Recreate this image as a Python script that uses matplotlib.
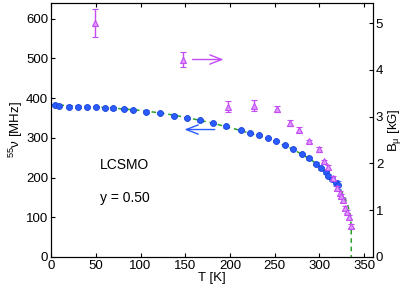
import matplotlib
matplotlib.use('Agg')
import matplotlib.pyplot as plt

plt.rcParams['font.family'] = ['Liberation Sans', 'DejaVu Sans']
plt.rcParams['mathtext.fontset'] = 'custom'
plt.rcParams['mathtext.rm'] = 'Liberation Sans'
plt.rcParams['mathtext.it'] = 'Liberation Sans'
plt.rcParams['font.size'] = 9.5

# ── Data ──────────────────────────────────────────────────────────────────────
# 55Mn NMR frequency (left axis)
nmr_T   = [4.5, 9, 20, 30, 40, 50, 60, 69, 82, 92, 106, 122, 137, 152, 167, 181,
           196, 212, 222, 232, 242, 251, 261, 270, 280, 288, 296, 302, 307, 310,
           314, 318, 321]
nmr_nu  = [383, 381, 379, 379, 378, 377, 375, 374, 372, 370, 366, 362, 356, 350,
           344, 337, 329, 320, 313, 307, 300, 292, 282, 272, 260, 248, 235, 223,
           213, 205, 196, 186, 182]
nmr_err = [3, 3, 3, 3, 3, 3, 3, 3, 3, 3, 3, 3, 3, 3, 3, 3, 3, 3, 3, 3, 3, 3, 3,
           3, 3, 3, 3, 3, 4, 4, 5, 7, 10]

# muon field (right axis)
mu_T    = [49, 148, 198, 227, 253, 267.5, 277.5, 288, 300, 305, 310, 315, 320,
           322.5, 324, 326.5, 328.5, 331, 333, 335.5]
mu_B    = [5.0, 4.22, 3.21, 3.23, 3.16, 2.86, 2.72, 2.47, 2.30, 2.04, 1.92, 1.68,
           1.47, 1.37, 1.31, 1.22, 1.04, 0.97, 0.86, 0.66]
mu_err  = [0.3, 0.17, 0.12, 0.12, 0.07, 0.06, 0.05, 0.04, 0.05, 0.04, 0.04, 0.04,
           0.04, 0.04, 0.04, 0.04, 0.04, 0.04, 0.04, 0.05]

# fitted curve
fit_T   = [0, 25, 50, 75, 100, 125, 150, 175, 200, 225, 250, 270, 290, 305, 315,
           322, 328, 332, 334.5, 335.6, 335.6]
fit_nu  = [383, 381, 378, 374, 369, 362, 352, 340, 326, 310, 291, 272, 246, 220,
           195, 175, 152, 128, 105, 76, 0]

BLUE  = '#2a5cff'
PINK  = '#c44cf4'
GREEN = '#2ca02c'

# ── Plot ──────────────────────────────────────────────────────────────────────
fig = plt.figure(figsize=(4.15, 2.9), dpi=100)
ax = fig.add_axes([0.123, 0.114, 0.776, 0.876])
ax2 = ax.twinx()

ax.plot(fit_T, fit_nu, '--', color=GREEN, lw=1.1, dashes=(3, 2.5), zorder=2)
ax.errorbar(nmr_T, nmr_nu, yerr=nmr_err, fmt='o', ms=4.3, color=BLUE,
            mfc=BLUE, mec='#1a44d8', mew=0.6, elinewidth=0.8, capsize=2, zorder=3)
ax2.errorbar(mu_T, mu_B, yerr=mu_err, fmt='^', ms=4.5, color=PINK,
             mfc='#dd99ff', mec=PINK, mew=0.8, elinewidth=1.0, capsize=2.5)

ax.annotate('', xy=(146, 321), xytext=(186, 321),
            arrowprops=dict(arrowstyle='->,head_length=0.9,head_width=0.35',
                            color=BLUE, lw=1.0))
ax2.annotate('', xy=(196, 4.22), xytext=(155, 4.22),
             arrowprops=dict(arrowstyle='->,head_length=0.9,head_width=0.35',
                             color=PINK, lw=1.0))

ax.text(55, 231, 'LCSMO', fontsize=10, va='center')
ax.text(55, 148, 'y = 0.50', fontsize=10, va='center')

ax.set_xlim(0, 360)
ax.set_ylim(0, 640)
ax2.set_ylim(0, 5.43)
ax.set_xticks(range(0, 351, 50))
ax.set_yticks(range(0, 601, 100))
ax2.set_yticks(range(0, 6))

ax.tick_params(direction='in', top=True, length=3, pad=2)
ax2.tick_params(direction='in', length=3, pad=2)

ax.set_xlabel('T [K]', labelpad=0)
ax.set_ylabel(r'$^{55}\nu$ [MHz]', labelpad=1)
ax2.set_ylabel(r'B$_{\mu}$ [kG]', labelpad=2)

plt.savefig('out.png', dpi=100)
plt.close()
